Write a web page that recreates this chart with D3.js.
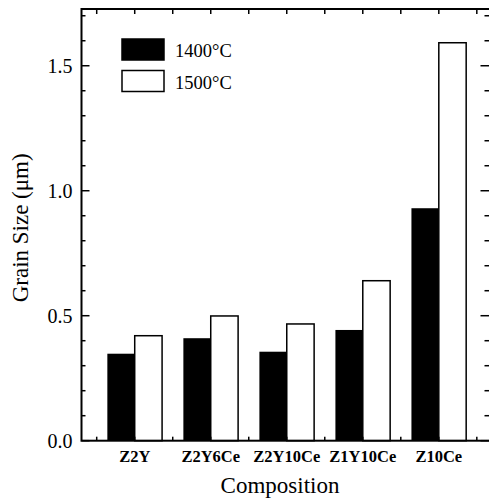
<!DOCTYPE html>
<html>
<head>
<meta charset="utf-8">
<script src="https://cdn.jsdelivr.net/npm/d3@7"></script>
<style>
  body { margin: 0; background: #fff; }
</style>
</head>
<body>
<svg width="489" height="498"></svg>
<script>
let categories = ["Z2Y", "Z2Y6Ce", "Z2Y10Ce", "Z1Y10Ce", "Z10Ce"];
let series = ["1400°C", "1500°C"];
let grain1400 = [0.348, 0.41, 0.356, 0.443, 0.93];
let grain1500 = [0.42, 0.499, 0.467, 0.64, 1.592];
let yTicks = [0.0, 0.5, 1.0, 1.5];

var svg = d3.select("svg"),
    width = +svg.attr("width"),
    height = +svg.attr("height");

let plotL = 81.5, plotR = 490.5, plotT = 9, plotB = 440.7;
let serif = "'Liberation Serif'";

// categories sit at 1..5 like an Origin column plot
let x = d3.scaleLinear().domain([0.3, 5.68]).range([plotL, plotR]);
let y = d3.scaleLinear().domain([0, 1.727]).range([plotB, plotT]);
let barW = 0.36;

// bars
let g = svg.append("g");
g.selectAll(".b1400")
    .data(grain1400)
    .enter().append("rect")
    .attr("x", (d, i) => x(i + 1 - barW))
    .attr("y", d => y(d))
    .attr("width", x(barW) - x(0))
    .attr("height", d => plotB - y(d))
    .attr("fill", "#000");

g.selectAll(".b1500")
    .data(grain1500)
    .enter().append("rect")
    .attr("x", (d, i) => x(i + 1))
    .attr("y", d => y(d))
    .attr("width", x(barW) - x(0))
    .attr("height", d => plotB - y(d))
    .attr("fill", "#fff")
    .attr("stroke", "#000")
    .attr("stroke-width", 1.5);

// frame
svg.append("rect")
    .attr("x", plotL).attr("y", plotT)
    .attr("width", plotR - plotL).attr("height", plotB - plotT)
    .attr("fill", "none").attr("stroke", "#000").attr("stroke-width", 2);

// y ticks, inward on both sides
let yMinor = d3.range(0, 1.75, 0.1);
yMinor.forEach(v => {
  let major = Math.abs(v * 2 - Math.round(v * 2)) < 1e-6;
  let len = major ? 8 : 4;
  svg.append("line").attr("x1", plotL).attr("x2", plotL + len)
      .attr("y1", y(v)).attr("y2", y(v)).attr("stroke", "#000").attr("stroke-width", 1.5);
  svg.append("line").attr("x1", plotR - len - 2).attr("x2", plotR)
      .attr("y1", y(v)).attr("y2", y(v)).attr("stroke", "#000").attr("stroke-width", 1.5);
});

// x ticks at half steps, inward
d3.range(0.5, 5.6, 0.5).forEach(v => {
  svg.append("line").attr("x1", x(v)).attr("x2", x(v))
      .attr("y1", plotT).attr("y2", plotT + 5).attr("stroke", "#000").attr("stroke-width", 1.5);
  svg.append("line").attr("x1", x(v)).attr("x2", x(v))
      .attr("y1", plotB).attr("y2", plotB - 4).attr("stroke", "#000").attr("stroke-width", 1.5);
});

// y tick labels
svg.selectAll(".ylab")
    .data(yTicks)
    .enter().append("text")
    .style("font-family", serif)
    .attr("x", plotL - 9)
    .attr("y", d => y(d) + 7)
    .attr("text-anchor", "end")
    .attr("font-size", 20)
    .text(d => d.toFixed(1));

// category labels
svg.selectAll(".xlab")
    .data(categories)
    .enter().append("text")
    .style("font-family", serif)
    .attr("x", (d, i) => x(i + 1))
    .attr("y", 462)
    .attr("text-anchor", "middle")
    .attr("font-size", 16.5)
    .attr("font-weight", "bold")
    .text(d => d);

// axis titles
svg.append("text")
    .style("font-family", serif)
    .attr("x", 280)
    .attr("y", 493)
    .attr("text-anchor", "middle")
    .attr("font-size", 23)
    .text("Composition");

svg.append("text")
    .style("font-family", serif)
    .attr("transform", "translate(28," + ((plotT + plotB) / 2 + 3) + ") rotate(-90)")
    .attr("text-anchor", "middle")
    .attr("font-size", 23)
    .text("Grain Size (\u03bcm)");

// legend
let legend = svg.append("g").selectAll("g")
    .data(series)
    .enter().append("g")
    .attr("transform", (d, i) => "translate(122," + (39 + i * 31.5) + ")");

legend.append("rect")
    .attr("width", 42).attr("height", 21)
    .attr("fill", (d, i) => i === 0 ? "#000" : "#fff")
    .attr("stroke", "#000").attr("stroke-width", 1.5);

legend.append("text")
    .style("font-family", serif)
    .attr("x", 53).attr("y", 18)
    .attr("font-size", 18.5)
    .text(d => d);
</script>
</body>
</html>
